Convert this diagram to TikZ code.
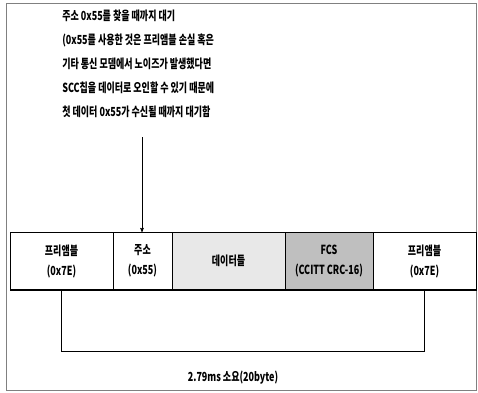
\documentclass[tikz,border=0pt]{standalone}
\usepackage{fontspec}
\newfontfamily\kor[FakeStretch=0.72]{Noto Sans CJK KR}
\usetikzlibrary{arrows,positioning}

\begin{document}
\begin{tikzpicture}[x=1pt,y=-1pt,->,>=stealth',semithick,
  font=\kor\bfseries\fontsize{12.5}{20}\selectfont]
  \tikzstyle{field}=[draw,-,line width=0.8pt,minimum height=58pt,inner sep=0pt,
    outer sep=0pt,align=center,anchor=north west]
  \useasboundingbox (0,0) rectangle (478,392);
  \draw[-,gray,thin] (6,3) rectangle (476,390);

  % frame fields
  \node[field,minimum width=103pt] (pre1) at (10,232) {프리앰블\\(0x7E)};
  \node[field,minimum width=59pt]  (addr) [right=0pt of pre1] {주소\\(0x55)};
  \node[field,minimum width=113pt,fill=black!9] (data) [right=0pt of addr] {데이터들};
  \node[field,minimum width=88pt,fill=black!25] (fcs) [right=0pt of data] {FCS\\(CCITT CRC-16)};
  \node[field,minimum width=103pt] (pre2) [right=0pt of fcs] {프리앰블\\(0x7E)};
  \draw[-,line width=2pt] (pre1.south west) -- (pre2.south east);

  % note above
  \node[align=left,anchor=north west,inner sep=0pt,
    font=\kor\bfseries\fontsize{12.5}{24}\selectfont] (note) at (62,10)
    {주소 0x55를 찾을 때까지 대기\\
     (0x55를 사용한 것은 프리앰블 손실 혹은\\
     기타 통신 모뎀에서 노이즈가 발생했다면\\
     SCC칩을 데이터로 오인할 수 있기 때문에\\
     첫 데이터 0x55가 수신될 때까지 대기함};
  \coordinate (tail) at (142,137);
  \draw (tail) -- (tail |- addr.north);

  % length bracket
  \coordinate (bl) at (61,351);
  \coordinate (br) at (424,351);
  \draw[-] (bl |- pre1.south) -- (bl) -- (br) -- (br |- pre2.south);
  \node (len) at (233,378) {2.79ms 소요(20byte)};
\end{tikzpicture}
\end{document}
